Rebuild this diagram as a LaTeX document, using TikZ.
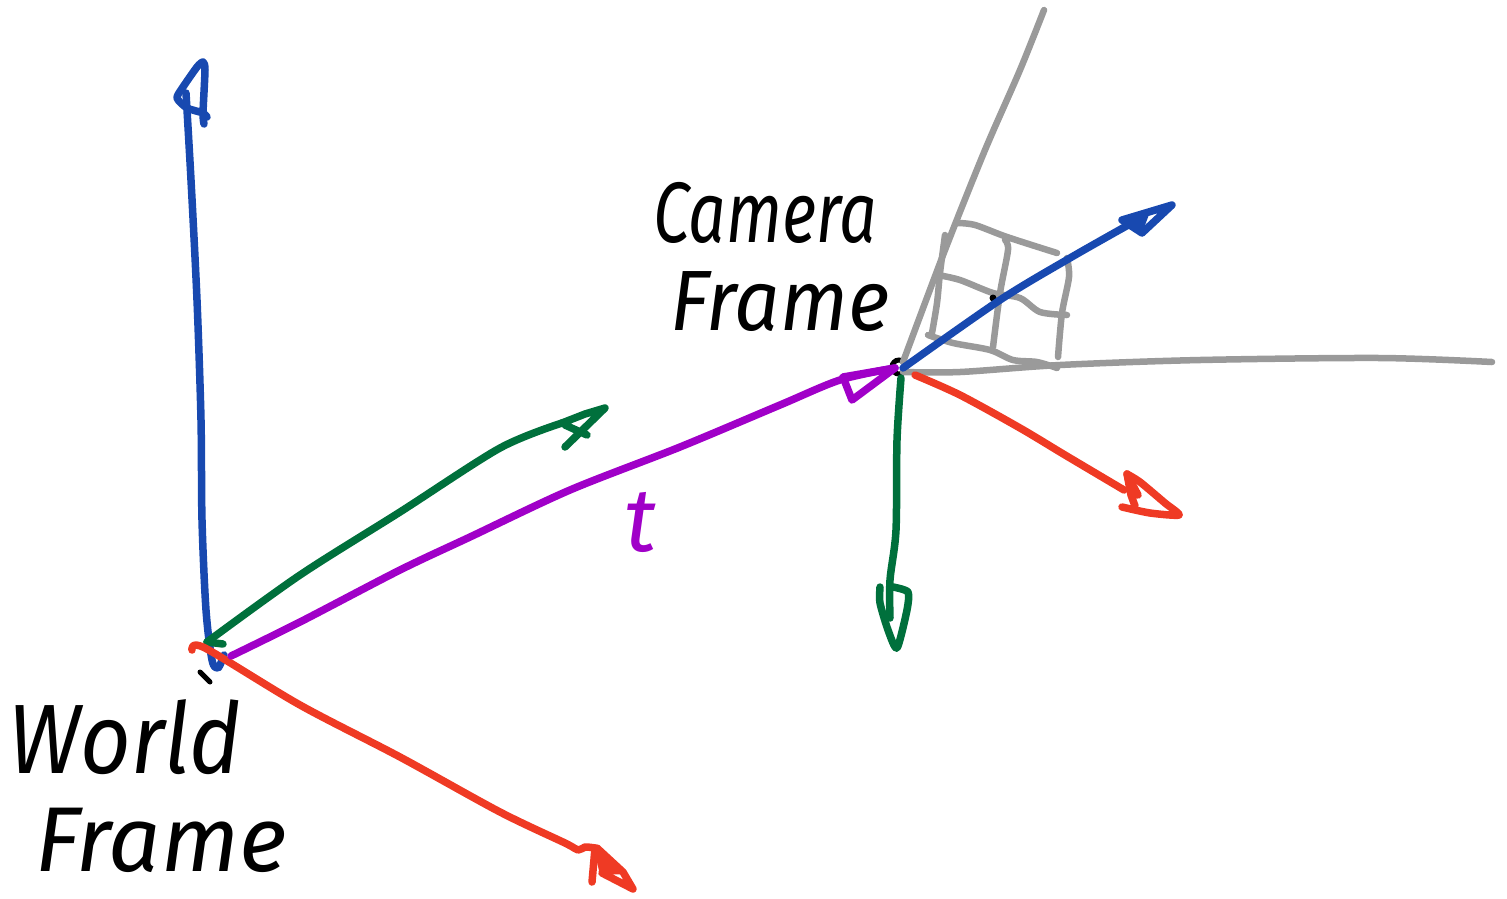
\documentclass[tikz,border=0pt]{standalone}
\usepackage{fontspec}
\setmainfont{Fira Sans}
\definecolor{penblue}{HTML}{1849B0}
\definecolor{pengreen}{HTML}{00703C}
\definecolor{penred}{HTML}{EF3A24}
\definecolor{penpurple}{HTML}{A000C8}
\definecolor{pengray}{HTML}{9A9A9A}
\tikzset{
  pen/.style={line width=7.5pt,line cap=round,line join=round},
  thinpen/.style={pen,line width=6.5pt},
  label/.style={inner sep=0pt,anchor=center,font=\itshape,transform shape},
  curve/.style={smooth,tension=.5},
}
\newcommand{\pensize}[1]{\fontsize{#1}{#1}\selectfont}
\begin{document}
\begin{tikzpicture}[x=1pt,y=-1pt]
\useasboundingbox (0,0) rectangle (1507,898);
\coordinate (wblue) at (186,93);
\coordinate (wgreen) at (207,642);
\coordinate (wpurple) at (231,656);
\coordinate (wred) at (192,650);
\coordinate (cam) at (899,367);
\coordinate (cblue) at (903,368);
\coordinate (cgreen) at (901,378);
\coordinate (cred) at (915,375);
\coordinate (cpurple) at (895,368);
\coordinate (gtop) at (1044,10);
\coordinate (gright) at (1492,362);

% camera origin ring
\draw[black,line width=5pt] (cam) circle (7);
% image plane
\draw[pengray,thinpen] plot[curve] coordinates {(903,362) (945,250) (985,150) (1020,70) (gtop)};
\draw[pengray,thinpen] plot[curve] coordinates {(903,372) (960,372) (1060,365) (1200,360) (1380,358) (gright)};
\draw[pengray,thinpen] plot[curve] coordinates {(957,223) (975,225) (1007,237) (1057,253)};
\draw[pengray,thinpen] plot[curve] coordinates {(938,275) (960,280) (993,293) (1020,298) (1040,312) (1067,315)};
\draw[pengray,thinpen] plot[curve] coordinates {(928,335) (953,343) (990,350) (1013,360) (1037,362) (1057,368)};
\draw[pengray,thinpen] plot[curve] coordinates {(945,235) (940,273) (937,303) (932,333)};
\draw[pengray,thinpen] plot[curve] coordinates {(1005,240) (1008,250) (1000,293) (993,347)};
\draw[pengray,thinpen] plot[curve] coordinates {(1067,258) (1069,277) (1062,313) (1058,357)};
\fill[black] (993,298) circle (3.5);

% world frame axes
\draw[penblue,pen] plot[curve] coordinates {(wblue) (191,180) (197,300) (201,420) (202,520) (206,610) (212,660) (218,668) (224,655)};
\draw[penblue,pen] plot[smooth,tension=.4] coordinates {(207,117) (203,113) (187,108) (177,98) (183,87) (197,67) (203,62) (205,70) (203,113) (204,124)};
\draw[pengreen,pen] plot[curve] coordinates {(wgreen) (300,575) (400,512) (500,448) (562,423)};
\draw[pengreen,pen] (223,644) -- (wgreen);
\draw[pengreen,pen] (562,423) -- (585,414) -- (605,408) -- (565,447) (587,435) -- (565,425);
\draw[penred,pen] plot[curve] coordinates {(wred) (205,648) (300,705) (400,757) (500,812) (565,843) (578,850) (585,847) (595,848)};
\fill[penred] (593,845) -- (627,874) -- (600,875) -- cycle;
\draw[penred,pen] (595,848) -- (592,882) (602,873) -- (633,889) -- (623,872) -- (597,848);
\draw[black,line width=5pt,line cap=round] (200,672) -- (210,682);

% translation
\draw[penpurple,pen] plot[curve] coordinates {(wpurple) (300,622) (400,570) (470,537) (570,490) (680,447) (780,405) (840,380) (cpurple)};
\draw[penpurple,pen] (843,377) -- (852,400) -- (cpurple) -- cycle;

% camera frame axes
\draw[penred,pen] plot[curve] coordinates {(cred) (960,395) (1020,428) (1065,455) (1124,490)};
\draw[penred,pen] plot[smooth,tension=.4] coordinates {(1127,474) (1140,482) (1165,503) (1179,515) (1150,513) (1122,507)};
\draw[penred,pen] (1127,474) -- (1131,495) -- (1135,506) (1127,474) -- (1138,495);
\draw[pengreen,pen] plot[curve] coordinates {(cgreen) (897,440) (896,530) (890,580) (890,618)};
\draw[pengreen,pen] plot[smooth,tension=.4] coordinates {(880,587) (880,603) (888,630) (897,648) (907,610) (908,592) (893,587)};
\draw[penblue,pen] plot[curve] coordinates {(cblue) (1000,300) (1070,258) (1130,224)};
\fill[penblue] (1122,220) -- (1150,212) -- (1142,233) -- cycle;
\draw[penblue,pen] (1122,220) -- (1172,205) -- (1142,233) -- cycle;

% labels
\node[label,yscale=1.12] (lworld) at (125,737) {\pensize{88}World};
\node[label] (lwframe) at (161,840) {\pensize{92}Frame};
\node[label,yscale=1.3] (lcamera) at (765,213) {\pensize{66}Camera};
\node[label,yscale=1.07] (lcframe) at (780,302) {\pensize{80}Frame};
\node[label,text=penpurple] (lt) at (640,522) {\pensize{90}t};
\end{tikzpicture}
\end{document}
